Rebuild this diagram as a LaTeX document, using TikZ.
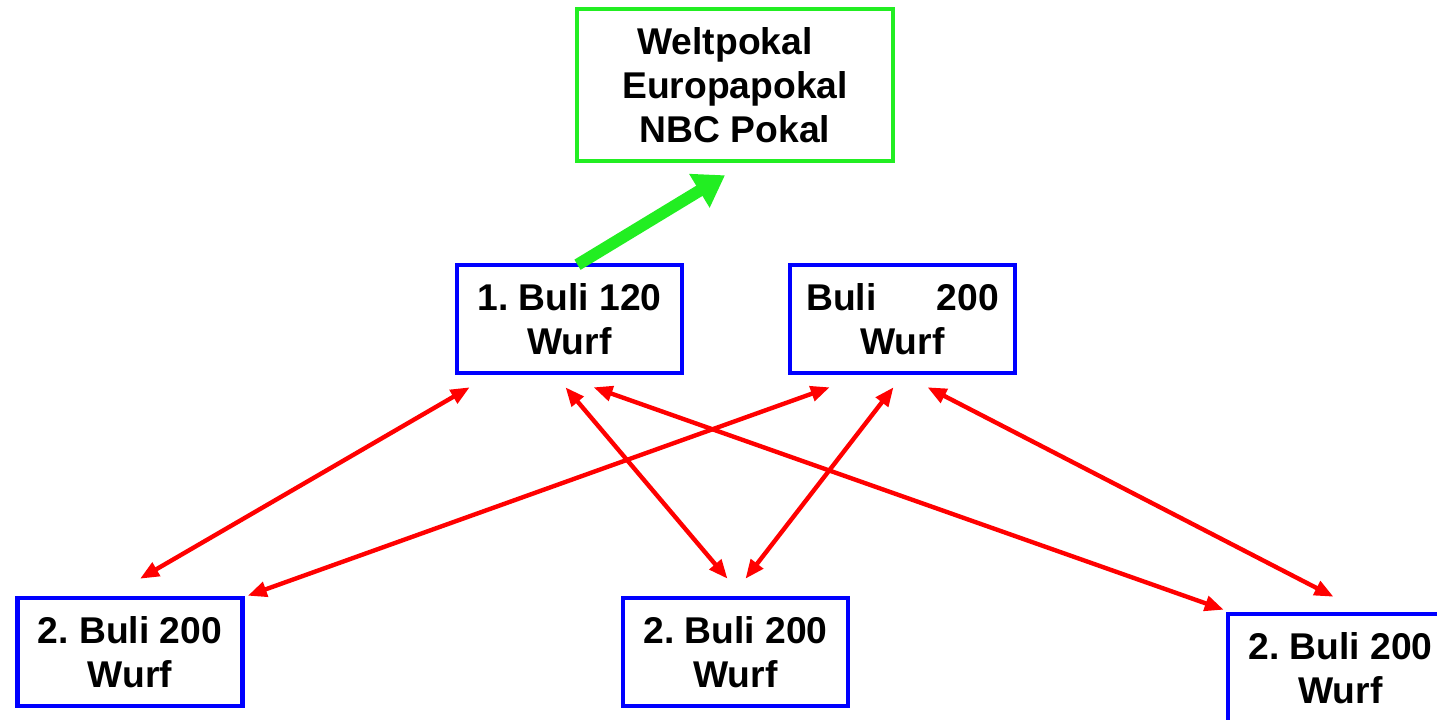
\documentclass[tikz,border=0pt]{standalone}
\usepackage{fontspec}
\setmainfont{Liberation Sans}
\usetikzlibrary{arrows.meta, positioning, calc}
\definecolor{CupGreen}{HTML}{22EE22}
\definecolor{LeagueBlue}{HTML}{0000FF}
\definecolor{LinkRed}{HTML}{FF0000}
\frenchspacing
\tikzset{
  league/.style={draw=LeagueBlue, line width=2.6pt, align=center,
                 minimum width=4.5cm, minimum height=2.16cm, inner sep=0pt,
                 font=\fontsize{21.2}{25}\selectfont\bfseries},
  link/.style={draw=LinkRed, line width=2.5pt, {Triangle[length=0.38cm, width=0.3cm]}-{Triangle[length=0.38cm, width=0.3cm]}},
}

\begin{document}
\begin{tikzpicture}[x=0.02cm, y=-0.02cm]
\useasboundingbox (0,0) rectangle (1437,720);
\node[draw=CupGreen, line width=2.6pt, align=center, minimum width=6.32cm,
      minimum height=3.04cm, inner sep=0pt, font=\fontsize{21.2}{25}\selectfont\bfseries]
      (cup) at (735,85) {Weltpokal\hspace*{0.4cm}\\Europapokal\\NBC Pokal};
\node[league] (first) at (569.5,319) {1. Buli 120\\Wurf};
\node[league] (elite) at (902.5,319) {Buli\hspace{1.2cm}200\\Wurf};
\node[league] (secA) at (130,652) {2. Buli 200\\Wurf};
\node[league] (secB) at (735.5,652) {2. Buli 200\\Wurf};
\node[league] (secC) at (1340.5,668) {2. Buli 200\\Wurf};
% qualification
\draw[draw=CupGreen, line width=6.8pt, -{Triangle[length=0.6cm, width=0.75cm]}]
  ($(first.north)+(8,2)$) -- ($(cup.south)+(-10,12)$);
% relegation / promotion
\draw[link] ($(first.south west)+(15,12)$) -- ($(secA.north)+(10,-17)$);
\draw[link] ($(first.south)+(-4,12)$) -- ($(secB.north)+(-8,-17)$);
\draw[link] ($(first.south)+(24,12)$) -- ($(secC.north west)+(-2,-2)$);
\draw[link] ($(elite.south west)+(42,12)$) -- ($(secA.north east)+(3,0)$);
\draw[link] ($(elite.south)+(-9,12)$) -- ($(secB.north)+(10,-17)$);
\draw[link] ($(elite.south)+(25,12)$) -- ($(secC.north)+(-7,-15)$);
\end{tikzpicture}
\end{document}
